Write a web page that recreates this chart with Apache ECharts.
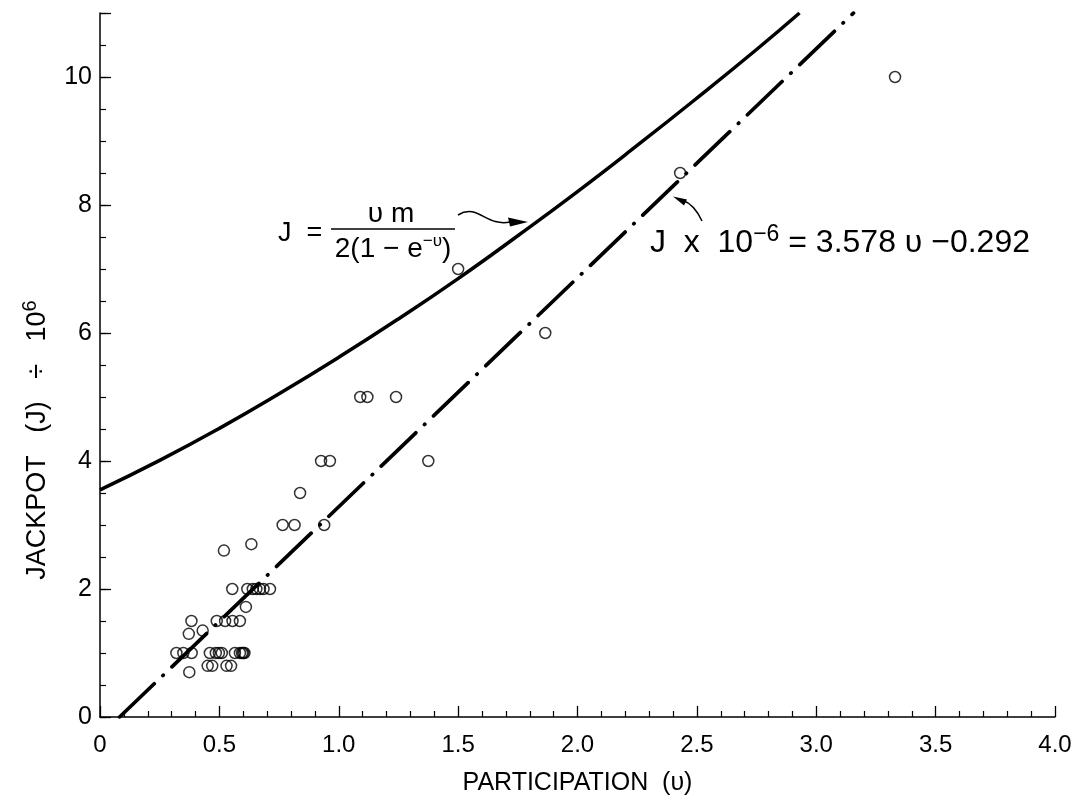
<!DOCTYPE html>
<html><head><meta charset="utf-8">
<script src="https://cdn.jsdelivr.net/npm/echarts@6/dist/echarts.min.js"></script>
<style>html,body{margin:0;padding:0;background:#fff}#c{width:1076px;height:803px}</style>
</head><body><div id="c"></div>
<script>
// observed points (participation v, jackpot J / 1e6)
const obsV = [3.33, 2.43, 1.50, 1.865, 1.09, 1.12, 1.24, 0.926, 0.963, 1.375, 0.838, 0.765, 0.815, 0.939,
  0.634, 0.519, 0.554, 0.617, 0.64, 0.655, 0.67, 0.685, 0.712, 0.611, 0.383, 0.489, 0.524, 0.555, 0.586,
  0.430, 0.372, 0.32, 0.349, 0.384, 0.46, 0.485, 0.498, 0.51, 0.565, 0.586, 0.595, 0.60, 0.605,
  0.451, 0.470, 0.530, 0.549, 0.374];
const obsJ = [10.0, 8.5, 7.0, 6.0, 5.0, 5.0, 5.0, 4.0, 4.0, 4.0, 3.5, 3.0, 3.0, 3.0,
  2.7, 2.6, 2.0, 2.0, 2.0, 2.0, 2.0, 2.0, 2.0, 1.72, 1.5, 1.5, 1.5, 1.5, 1.5,
  1.35, 1.3, 1.0, 1.0, 1.0, 1.0, 1.0, 1.0, 1.0, 1.0, 1.0, 1.0, 1.0, 1.0,
  0.8, 0.8, 0.8, 0.8, 0.7];
// theoretical curve J = v m / (2(1 - e^-v))
const curveV = [0, 0.25, 0.5, 0.75, 1.0, 1.25, 1.5, 1.75, 2.0, 2.25, 2.5, 2.75, 2.93];
const curveJ = [3.55, 4.01, 4.51, 5.05, 5.62, 6.22, 6.85, 7.52, 8.21, 8.93, 9.67, 10.43, 11.0];
// fitted line J = 3.578 v - 0.292
const fitV = [0.082, 3.156];
const fitJ = [0, 11];
// axis ticks
const xMin = 0, xMax = 4, xStep = 0.5;
const yMin = 0, yMax = 11, yStep = 2, yMinorStep = 0.5;

const FONT = 'Liberation Sans';
const chart = echarts.init(document.getElementById('c'), null, {renderer: 'canvas'});
const zip = (a, b) => a.map((v, i) => [v, b[i]]);

chart.setOption({
  backgroundColor: '#fff',
  animation: false,
  grid: {left: 100, right: 21, top: 13, bottom: 86},
  xAxis: {
    type: 'value', min: xMin, max: xMax, interval: xStep,
    name: 'PARTICIPATION  (\u03c5)', nameLocation: 'middle', nameGap: 54,
    nameTextStyle: {fontFamily: FONT, fontSize: 25, color: '#000'},
    axisLine: {lineStyle: {color: '#000', width: 1.5}},
    axisTick: {inside: true, length: 11, lineStyle: {color: '#000', width: 1.3}},
    minorTick: {show: true, splitNumber: 5, length: 6, lineStyle: {color: '#000', width: 1.2}},
    splitLine: {show: false},
    axisLabel: {fontFamily: FONT, fontSize: 24, color: '#000', margin: 16,
      formatter: v => v === 0 ? '0' : v.toFixed(1)}
  },
  yAxis: [{
    type: 'value', min: yMin, max: yMax, interval: yMinorStep, position: 'left',
    axisLine: {show: true, lineStyle: {color: '#000', width: 1.5}},
    axisTick: {inside: true, length: 6, lineStyle: {color: '#000', width: 1.2}},
    splitLine: {show: false},
    axisLabel: {show: false}
  }, {
    type: 'value', min: yMin, max: yMax, interval: yStep, position: 'left',
    axisLine: {show: false},
    axisTick: {inside: true, length: 11, lineStyle: {color: '#000', width: 1.3}},
    splitLine: {show: false},
    axisLabel: {fontFamily: FONT, fontSize: 25, color: '#000', margin: 8,
      formatter: v => (v > 10 ? '' : String(v))}
  }],
  series: [{
    type: 'line', data: zip(curveV, curveJ), smooth: true, showSymbol: false,
    lineStyle: {color: '#000', width: 3.5}, clip: true, z: 2
  }, {
    type: 'line', data: zip(fitV, fitJ), showSymbol: false,
    lineStyle: {color: '#000', width: 3.7, type: [48, 12, 0.5, 12], cap: 'round'}, clip: true, z: 2
  }, {
    type: 'scatter', data: zip(obsV, obsJ), symbol: 'circle', symbolSize: 11,
    itemStyle: {color: 'rgba(0,0,0,0)', borderColor: '#000', borderWidth: 1.5}, z: 3
  }],
  graphic: [
    {type: 'text', rotation: Math.PI / 2, x: 38, y: 440,
      style: {text: '{a|JACKPOT   (J)   \u00f7   10}{s|6}', fill: '#000', align: 'center', verticalAlign: 'middle',
        rich: {a: {fontFamily: FONT, fontSize: 27, lineHeight: 36, fill: '#000'},
               s: {fontFamily: FONT, fontSize: 20, lineHeight: 20, verticalAlign: 'top', fill: '#000'}}}},
    // formula 1
    {type: 'text', x: 278, y: 234, style: {text: 'J  =', fontFamily: FONT, fontSize: 27, fill: '#000', verticalAlign: 'middle'}},
    {type: 'text', x: 391, y: 214, style: {text: '\u03c5 m', fontFamily: FONT, fontSize: 28, fill: '#000', align: 'center', verticalAlign: 'middle'}},
    {type: 'line', shape: {x1: 331, y1: 229, x2: 455, y2: 229}, style: {stroke: '#000', lineWidth: 1.7}},
    {type: 'text', x: 393, y: 249, style: {text: '{a|2(1 \u2212 e}{s|\u2212\u03c5}{a|)}', align: 'center', verticalAlign: 'middle',
        rich: {a: {fontFamily: FONT, fontSize: 28, lineHeight: 32, fill: '#000'},
               s: {fontFamily: FONT, fontSize: 17, lineHeight: 17, verticalAlign: 'top', fill: '#000'}}}},
    {type: 'bezierCurve', shape: {x1: 458, y1: 215, cpx1: 478, cpy1: 203, cpx2: 486, cpy2: 227, x2: 510, y2: 222},
      style: {stroke: '#000', lineWidth: 1.5, fill: null}},
    {type: 'polygon', shape: {points: [[528, 222], [508, 217.5], [510, 226.5]]}, style: {fill: '#000'}},
    // formula 2
    {type: 'text', x: 650, y: 243, style: {text: '{a|J  x  10}{s|\u22126}{a| = 3.578 \u03c5 \u22120.292}', verticalAlign: 'middle',
        rich: {a: {fontFamily: FONT, fontSize: 32, lineHeight: 40, fill: '#000'},
               s: {fontFamily: FONT, fontSize: 23, lineHeight: 23, verticalAlign: 'top', fill: '#000'}}}},
    {type: 'bezierCurve', shape: {x1: 702, y1: 221, cpx1: 696, cpy1: 208, cpx2: 688, cpy2: 202, x2: 682, y2: 200},
      style: {stroke: '#000', lineWidth: 1.5, fill: null}},
    {type: 'polygon', shape: {points: [[673, 196.5], [687, 199.5], [684, 205.5]]}, style: {fill: '#000'}}
  ]
});
</script></body></html>
